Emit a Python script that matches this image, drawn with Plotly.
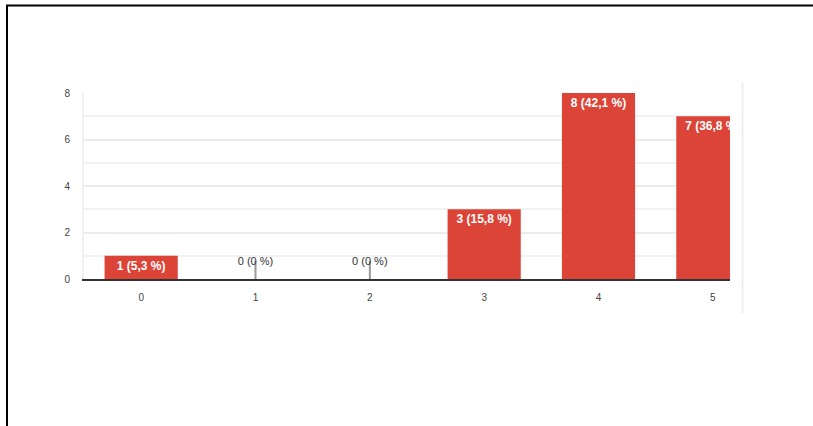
import plotly.graph_objects as go

categories = [0, 1, 2, 3, 4, 5]
counts = [1, 0, 0, 3, 8, 7]
percent_labels = ["5,3", "0", "0", "15,8", "42,1", "36,8"]
y_ticks = [0, 2, 4, 6, 8]

labels = [f"{c} ({p} %)" for c, p in zip(counts, percent_labels)]

FONT = "Arial, 'Liberation Sans', sans-serif"

fig = go.Figure()

nz = [i for i, c in enumerate(counts) if c > 0]
z = [i for i, c in enumerate(counts) if c == 0]

fig.add_trace(go.Bar(
    x=[categories[i] for i in nz],
    y=[counts[i] for i in nz],
    text=[labels[i] for i in nz],
    textposition="inside",
    insidetextanchor="end",
    textangle=0,
    textfont=dict(color="white", size=12, family=FONT, weight="bold"),
    constraintext="none",
    marker=dict(color="#db4437", line=dict(width=0)),
    width=0.64,
    cliponaxis=True,
    hoverinfo="skip",
))

# small stub for zero-valued categories
fig.add_trace(go.Scatter(
    x=[categories[i] for i in z],
    y=[counts[i] for i in z],
    mode="markers",
    marker=dict(symbol="line-ns-open", size=26, color="#999999",
                line=dict(width=2, color="#999999")),
    cliponaxis=True,
    hoverinfo="skip",
))
# labels for zero-valued categories
fig.add_trace(go.Scatter(
    x=[categories[i] for i in z],
    y=[counts[i] for i in z],
    mode="markers+text",
    marker=dict(size=17, color="rgba(0,0,0,0)"),
    text=[labels[i] for i in z],
    textposition="top center",
    textfont=dict(color="#333333", size=11, family=FONT),
    cliponaxis=False,
    hoverinfo="skip",
))

fig.update_layout(
    width=813, height=426,
    margin=dict(l=84, r=83, t=93, b=147),
    paper_bgcolor="white",
    plot_bgcolor="white",
    showlegend=False,
    font=dict(family=FONT, size=10, color="#444444"),
    xaxis=dict(
        range=[-0.5, 5.15],
        tickmode="array",
        tickvals=categories,
        ticktext=[str(c) for c in categories],
        showgrid=False,
        zeroline=False,
        showline=True,
        linecolor="#333333",
        linewidth=2,
        ticks="",
        ticklabelstandoff=8,
        tickfont=dict(size=10, color="#444444", family=FONT),
        fixedrange=True,
    ),
    yaxis=dict(
        range=[0, 8],
        tickmode="array",
        tickvals=y_ticks,
        ticktext=[str(v) for v in y_ticks],
        showgrid=True,
        gridcolor="#ececec",
        gridwidth=2,
        minor=dict(dtick=1, showgrid=True, gridcolor="#f2f2f2", gridwidth=2, tick0=0),
        zeroline=False,
        showline=True,
        linecolor="#f0f0f0",
        linewidth=2,
        ticks="",
        ticklabelstandoff=10,
        tickfont=dict(size=10, color="#444444", family=FONT),
        fixedrange=True,
    ),
)

# frame borders and separator (screenshot decoration)
def px2paper_x(px):
    return (px - 84) / (813 - 84 - 83)

def px2paper_y(py):
    return (426 - 147 - py) / (426 - 93 - 147)

fig.add_shape(type="line", xref="paper", yref="paper",
              x0=px2paper_x(6), x1=px2paper_x(813), y0=px2paper_y(5.5), y1=px2paper_y(5.5),
              line=dict(color="black", width=2))
fig.add_shape(type="line", xref="paper", yref="paper",
              x0=px2paper_x(7), x1=px2paper_x(7), y0=px2paper_y(5), y1=px2paper_y(426),
              line=dict(color="black", width=2))
fig.add_shape(type="line", xref="paper", yref="paper",
              x0=px2paper_x(742.5), x1=px2paper_x(742.5), y0=px2paper_y(83), y1=px2paper_y(313),
              line=dict(color="#eeeeee", width=2))

fig.write_html(
    "out.html",
    config={"displayModeBar": False, "staticPlot": True},
    post_script="document.body.style.margin='0';document.body.style.overflow='hidden';",
)
